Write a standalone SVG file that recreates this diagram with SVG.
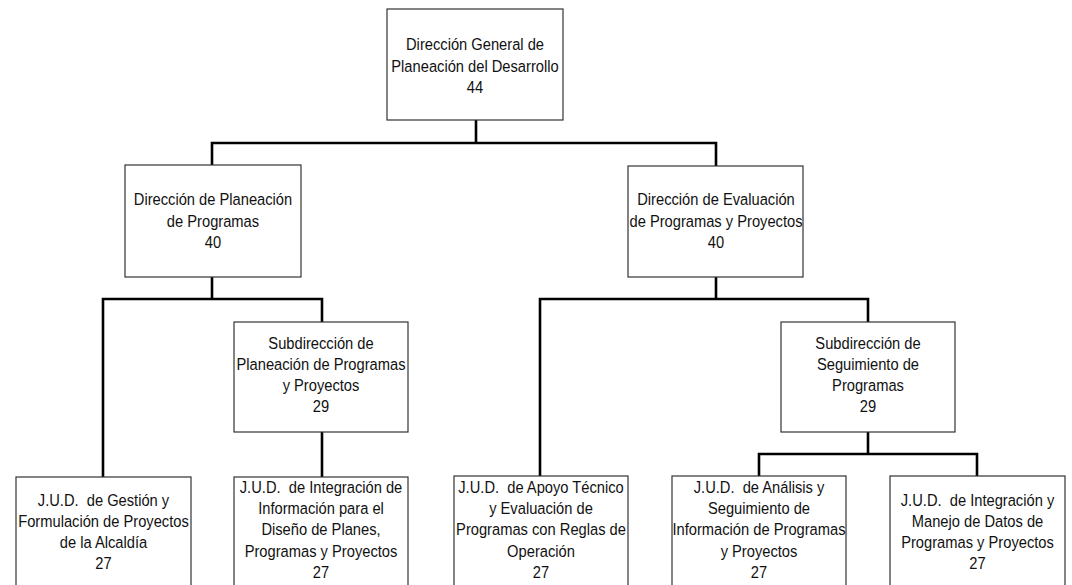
<svg xmlns="http://www.w3.org/2000/svg" width="1072" height="585" viewBox="0 0 1072 585">
<style>
.box{fill:#fff;stroke:#333;stroke-width:1.2}
.lbl{font-family:"Liberation Sans",Arial,sans-serif;font-size:17px;fill:#111;text-anchor:middle}
.con{fill:none;stroke:#000;stroke-width:2.6;stroke-linecap:square}
</style>
<rect width="1072" height="585" fill="#fff"/>
<g id="connectors">
<path class="con" d="M476 120V143M212 143H716M212 143V165M716 143V166"/>
<path class="con" d="M212 277V299M103 299H322M103 299V477M322 299V322M322 432V477"/>
<path class="con" d="M716 277V299M540 299H868M540 299V476M868 299V322M868 432V454M759 454H977M759 454V476M977 454V476"/>
</g>
<g id="n-dg">
<rect class="box" x="387" y="9" width="176" height="111"/>
<text class="lbl" transform="translate(475 0) scale(0.865 1)"><tspan x="0" y="50">Dirección General de</tspan><tspan x="0" y="72">Planeación del Desarrollo</tspan><tspan x="0" y="93">44</tspan></text>
</g>
<g id="n-dpp">
<rect class="box" x="125" y="165" width="176" height="112"/>
<text class="lbl" transform="translate(213 0) scale(0.865 1)"><tspan x="0" y="205">Dirección de Planeación</tspan><tspan x="0" y="227">de Programas</tspan><tspan x="0" y="248">40</tspan></text>
</g>
<g id="n-dep">
<rect class="box" x="628" y="166" width="175" height="111"/>
<text class="lbl" transform="translate(716 0) scale(0.865 1)"><tspan x="0" y="205">Dirección de Evaluación</tspan><tspan x="0" y="227">de Programas y Proyectos</tspan><tspan x="0" y="248">40</tspan></text>
</g>
<g id="n-spp">
<rect class="box" x="234" y="322" width="174" height="110"/>
<text class="lbl" transform="translate(321 0) scale(0.865 1)"><tspan x="0" y="349">Subdirección de</tspan><tspan x="0" y="370">Planeación de Programas</tspan><tspan x="0" y="391">y Proyectos</tspan><tspan x="0" y="412">29</tspan></text>
</g>
<g id="n-ssp">
<rect class="box" x="781" y="322" width="174" height="110"/>
<text class="lbl" transform="translate(868 0) scale(0.865 1)"><tspan x="0" y="349">Subdirección de</tspan><tspan x="0" y="370">Seguimiento de</tspan><tspan x="0" y="391">Programas</tspan><tspan x="0" y="412">29</tspan></text>
</g>
<g id="n-jud1">
<rect class="box" x="16" y="477" width="175" height="112"/>
<text class="lbl" transform="translate(103.5 0) scale(0.865 1)"><tspan x="0" y="506">J.U.D.&#160; de Gestión y</tspan><tspan x="0" y="527">Formulación de Proyectos</tspan><tspan x="0" y="548">de la Alcaldía</tspan><tspan x="0" y="569">27</tspan></text>
</g>
<g id="n-jud2">
<rect class="box" x="234" y="477" width="174" height="112"/>
<text class="lbl" transform="translate(321 0) scale(0.865 1)"><tspan x="0" y="493">J.U.D.&#160; de Integración de</tspan><tspan x="0" y="514">Información para el</tspan><tspan x="0" y="535.5">Diseño de Planes,</tspan><tspan x="0" y="557">Programas y Proyectos</tspan><tspan x="0" y="578.5">27</tspan></text>
</g>
<g id="n-jud3">
<rect class="box" x="454" y="476" width="174" height="113"/>
<text class="lbl" transform="translate(541 0) scale(0.865 1)"><tspan x="0" y="493">J.U.D.&#160; de Apoyo Técnico</tspan><tspan x="0" y="514">y Evaluación de</tspan><tspan x="0" y="535.5">Programas con Reglas de</tspan><tspan x="0" y="557">Operación</tspan><tspan x="0" y="578.5">27</tspan></text>
</g>
<g id="n-jud4">
<rect class="box" x="672" y="476" width="174" height="113"/>
<text class="lbl" transform="translate(759 0) scale(0.865 1)"><tspan x="0" y="493">J.U.D.&#160; de Análisis y</tspan><tspan x="0" y="514">Seguimiento de</tspan><tspan x="0" y="535.5">Información de Programas</tspan><tspan x="0" y="557">y Proyectos</tspan><tspan x="0" y="578.5">27</tspan></text>
</g>
<g id="n-jud5">
<rect class="box" x="890" y="476" width="175" height="113"/>
<text class="lbl" transform="translate(977.5 0) scale(0.865 1)"><tspan x="0" y="506">J.U.D.&#160; de Integración y</tspan><tspan x="0" y="527">Manejo de Datos de</tspan><tspan x="0" y="548">Programas y Proyectos</tspan><tspan x="0" y="569">27</tspan></text>
</g>
</svg>
